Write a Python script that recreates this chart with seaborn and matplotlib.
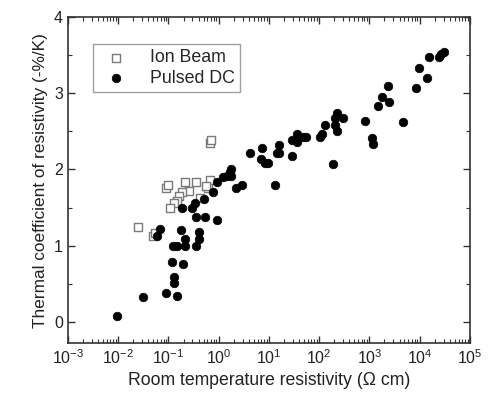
import numpy as np
import pandas as pd
import matplotlib
matplotlib.use("Agg")
import matplotlib.pyplot as plt
import matplotlib.ticker as mticker
import seaborn as sns

# --- Data ---
ion_rho = [0.68, 0.72, 0.089, 0.10, 0.21, 0.35, 0.68, 0.62, 0.26, 0.19, 0.16,
           0.15, 0.13, 0.107, 0.43, 0.025, 0.049, 0.053, 0.55]
ion_tcr = [2.35, 2.38, 1.76, 1.79, 1.84, 1.84, 1.86, 1.75, 1.72, 1.70, 1.65,
           1.59, 1.56, 1.50, 1.63, 1.25, 1.12, 1.17, 1.78]

dc_rho = [0.0095, 0.031, 0.089, 0.148, 0.129, 0.129, 0.117, 0.195, 0.125, 0.15,
          0.21, 0.35, 0.21, 0.41, 0.41, 0.18, 0.068, 0.059, 0.93,
          0.19, 0.30, 0.34, 0.51, 0.35, 0.54, 0.78, 0.94, 1.2, 1.66,
          2.2, 2.9, 13.0, 1.8, 1.5, 1.8,
          4.2, 7.2, 7.0, 8.3, 9.4, 14.5, 15.9, 15.9, 29, 29, 36, 36, 47, 55,
          105, 112, 128, 186, 204, 225, 295, 210, 230,
          810, 1120, 1180, 1480, 1780, 2350, 2460, 4700, 8500, 9800, 13800,
          15200, 24000, 30000, 27000]
dc_tcr = [0.08, 0.33, 0.38, 0.34, 0.51, 0.59, 0.78, 0.76, 0.99, 0.99,
          0.99, 0.99, 1.09, 1.09, 1.18, 1.21, 1.22, 1.13, 1.34,
          1.50, 1.50, 1.56, 1.61, 1.38, 1.38, 1.71, 1.83, 1.90, 1.97,
          1.76, 1.80, 1.80, 2.00, 1.91, 1.91,
          2.22, 2.28, 2.14, 2.09, 2.09, 2.21, 2.32, 2.21, 2.18, 2.39, 2.46, 2.36, 2.43, 2.43,
          2.42, 2.46, 2.58, 2.07, 2.67, 2.74, 2.67, 2.58, 2.50,
          2.64, 2.41, 2.33, 2.83, 2.95, 3.09, 2.89, 2.62, 3.07, 3.33, 3.20,
          3.47, 3.47, 3.54, 3.51]

ion = pd.DataFrame({"rho": ion_rho, "tcr": ion_tcr})
dc = pd.DataFrame({"rho": dc_rho, "tcr": dc_tcr})

sns.set_style("ticks")
plt.rcParams["font.family"] = ["Liberation Sans", "DejaVu Sans"]

fig = plt.figure(figsize=(4.92, 3.98), dpi=100)
ax = fig.add_axes([0.138, 0.138, 0.817, 0.819])

sns.scatterplot(data=ion, x="rho", y="tcr", ax=ax, marker="s", s=30,
                color="white", edgecolor="#7a7a7a", linewidth=1.0,
                label="Ion Beam", zorder=2)
sns.scatterplot(data=dc, x="rho", y="tcr", ax=ax, marker="o", s=38,
                color="black", edgecolor="black", linewidth=0.5,
                label="Pulsed DC", zorder=3)

ax.set_xscale("log")
ax.set_xlim(1e-3, 1e5)
ax.set_ylim(-0.28, 4)
ax.xaxis.set_major_locator(mticker.LogLocator(base=10, numticks=20))
ax.xaxis.set_minor_locator(mticker.LogLocator(base=10, subs=np.arange(2, 10), numticks=20))
ax.xaxis.set_minor_formatter(mticker.NullFormatter())
ax.yaxis.set_major_locator(mticker.MultipleLocator(1))
ax.yaxis.set_minor_locator(mticker.MultipleLocator(0.5))

ax.tick_params(which="both", direction="in", top=True, right=True,
               labelsize=11.5, colors="#333333", labelcolor="#222222")
ax.tick_params(which="major", length=5, width=1)
ax.tick_params(which="minor", length=3, width=0.8)
for sp in ax.spines.values():
    sp.set_color("#333333")
    sp.set_linewidth(1.2)

ax.set_xlabel("Room temperature resistivity (\u03a9 cm)", fontsize=12.7, color="#222222")
ax.set_ylabel("Thermal coefficient of resistivity (-%/K)", fontsize=12.4, color="#222222")

leg = ax.legend(loc="upper left", bbox_to_anchor=(0.04, 0.945), fontsize=12.8,
                frameon=True, fancybox=False, edgecolor="#888888",
                handletextpad=0.9, borderpad=0.3, labelspacing=0.2,
                markerscale=1.0)
leg.get_frame().set_linewidth(1.0)

fig.savefig("out.png", dpi=100)
